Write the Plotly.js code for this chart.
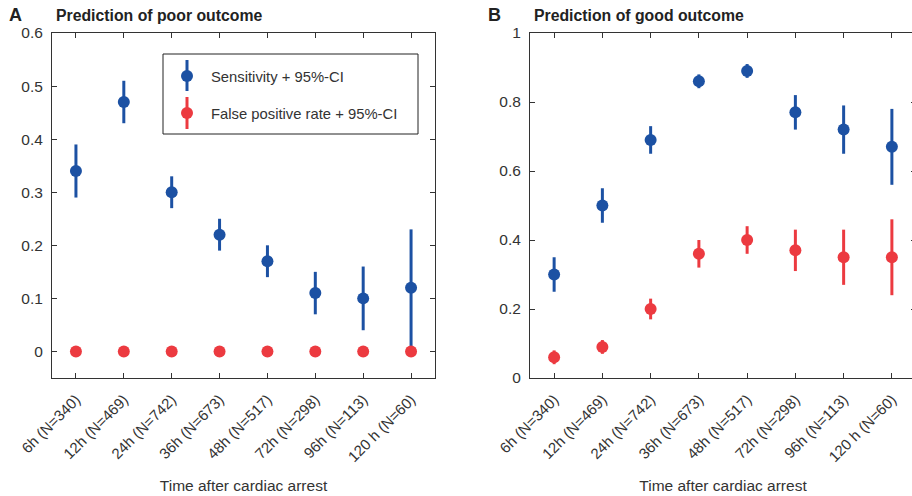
<!DOCTYPE html>
<html>
<head>
<meta charset="utf-8">
<script src="https://cdn.plot.ly/plotly-3.0.1.min.js"></script>
<style>
html,body{margin:0;padding:0;overflow:hidden;background:#fff;width:912px;height:496px;}
#chart{width:920px;height:496px;}
</style>
</head>
<body>
<div id="chart"></div>
<script>
// ---- data ----
const categories = ["6h (N=340)", "12h (N=469)", "24h (N=742)", "36h (N=673)", "48h (N=517)", "72h (N=298)", "96h (N=113)", "120 h (N=60)"];

// Panel A: prediction of poor outcome
const poorSens    = [0.34, 0.47, 0.30, 0.22, 0.17, 0.11, 0.10, 0.12];
const poorSensLo  = [0.29, 0.43, 0.27, 0.19, 0.14, 0.07, 0.04, 0.01];
const poorSensHi  = [0.39, 0.51, 0.33, 0.25, 0.20, 0.15, 0.16, 0.23];
const poorFpr     = [0, 0, 0, 0, 0, 0, 0, 0];
const poorFprLo   = [0, 0, 0, 0, 0, 0, 0, 0];
const poorFprHi   = [0, 0, 0, 0, 0, 0, 0, 0];

// Panel B: prediction of good outcome
const goodSens    = [0.30, 0.50, 0.69, 0.86, 0.89, 0.77, 0.72, 0.67];
const goodSensLo  = [0.25, 0.45, 0.65, 0.84, 0.87, 0.72, 0.65, 0.56];
const goodSensHi  = [0.35, 0.55, 0.73, 0.88, 0.91, 0.82, 0.79, 0.78];
const goodFpr     = [0.06, 0.09, 0.20, 0.36, 0.40, 0.37, 0.35, 0.35];
const goodFprLo   = [0.04, 0.07, 0.17, 0.32, 0.36, 0.31, 0.27, 0.24];
const goodFprHi   = [0.08, 0.11, 0.23, 0.40, 0.44, 0.43, 0.43, 0.46];

const legendLabels = ["Sensitivity + 95%-CI", "False positive rate + 95%-CI"];

// ---- styling ----
const BLUE = '#1c51a3';
const RED = '#ec3a40';
const TXT = '#333333';
const FONT = 'Liberation Sans, Arial, sans-serif';
const W = 920, H = 496;

function trace(y, lo, hi, color, xa, ya, name) {
  return {
    type: 'scatter', mode: 'markers', x: categories, y: y,
    xaxis: xa, yaxis: ya, name: name, showlegend: false,
    marker: {color: color, size: 12},
    error_y: {type: 'data', symmetric: false,
      array: y.map((v, i) => hi[i] - v),
      arrayminus: y.map((v, i) => v - lo[i]),
      color: color, thickness: 3, width: 0},
    cliponaxis: false
  };
}

const data = [
  trace(poorSens, poorSensLo, poorSensHi, BLUE, 'x', 'y', legendLabels[0]),
  trace(poorFpr, poorFprLo, poorFprHi, RED, 'x', 'y', legendLabels[1]),
  trace(goodSens, goodSensLo, goodSensHi, BLUE, 'x2', 'y2', legendLabels[0]),
  trace(goodFpr, goodFprLo, goodFprHi, RED, 'x2', 'y2', legendLabels[1])
];

const px = v => v / W;
const py = v => 1 - v / H;

const xCommon = {
  type: 'category', range: [-0.5, 7.5], tickangle: -45,
  ticks: 'inside', ticklen: 5, tickcolor: TXT, tickwidth: 1,
  showline: true, linecolor: TXT, linewidth: 1, mirror: 'ticks',
  showgrid: false, zeroline: false, ticklabelstandoff: 6,
  tickfont: {family: FONT, size: 15, color: TXT},
  title: {text: 'Time after cardiac arrest', font: {family: FONT, size: 15.5, color: TXT}, standoff: 16},
  automargin: false
};
const yCommon = {
  ticks: 'inside', ticklen: 5, tickcolor: TXT, tickwidth: 1,
  showline: true, linecolor: TXT, linewidth: 1, mirror: 'ticks',
  showgrid: false, zeroline: false, ticklabelstandoff: 5,
  tickfont: {family: FONT, size: 15.5, color: TXT},
  automargin: false
};
const yDom = [py(378), py(33)];

const layout = {
  width: W, height: H,
  margin: {l: 0, r: 0, t: 0, b: 0},
  paper_bgcolor: '#fff', plot_bgcolor: '#fff',
  showlegend: false,
  font: {family: FONT, color: TXT},
  xaxis: Object.assign({}, xCommon, {domain: [px(52), px(435)], anchor: 'y'}),
  yaxis: Object.assign({}, yCommon, {domain: yDom, anchor: 'x', range: [-0.05, 0.6],
    tickvals: [0, 0.1, 0.2, 0.3, 0.4, 0.5, 0.6]}),
  xaxis2: Object.assign({}, xCommon, {domain: [px(530), px(916)], anchor: 'y2'}),
  yaxis2: Object.assign({}, yCommon, {domain: yDom, anchor: 'x2', range: [0, 1],
    tickvals: [0, 0.2, 0.4, 0.6, 0.8, 1]}),
  annotations: [
    {xref: 'paper', yref: 'paper', x: px(7), y: py(15), xanchor: 'left', yanchor: 'middle',
     text: '<b>A</b>', showarrow: false, font: {family: FONT, size: 18, color: '#222'}},
    {xref: 'paper', yref: 'paper', x: px(54), y: py(15), xanchor: 'left', yanchor: 'middle',
     text: '<b>Prediction of poor outcome</b>', showarrow: false, font: {family: FONT, size: 15.8, color: '#222'}},
    {xref: 'paper', yref: 'paper', x: px(486), y: py(15), xanchor: 'left', yanchor: 'middle',
     text: '<b>B</b>', showarrow: false, font: {family: FONT, size: 18, color: '#222'}},
    {xref: 'paper', yref: 'paper', x: px(532), y: py(15), xanchor: 'left', yanchor: 'middle',
     text: '<b>Prediction of good outcome</b>', showarrow: false, font: {family: FONT, size: 15.8, color: '#222'}},
    {xref: 'paper', yref: 'paper', x: px(209), y: py(77), xanchor: 'left', yanchor: 'middle',
     text: legendLabels[0], showarrow: false, font: {family: FONT, size: 14.8, color: TXT}},
    {xref: 'paper', yref: 'paper', x: px(209), y: py(114), xanchor: 'left', yanchor: 'middle',
     text: legendLabels[1], showarrow: false, font: {family: FONT, size: 14.8, color: TXT}}
  ],
  shapes: [
    {type: 'rect', xref: 'paper', yref: 'paper', x0: px(163), x1: px(418), y0: py(54), y1: py(134),
     line: {color: '#222', width: 1}, fillcolor: 'rgba(255,255,255,1)'},
    {type: 'line', xref: 'paper', yref: 'paper', x0: px(187), x1: px(187), y0: py(60), y1: py(91),
     line: {color: BLUE, width: 3}},
    {type: 'circle', xref: 'paper', yref: 'paper', xsizemode: 'pixel', ysizemode: 'pixel',
     xanchor: px(187), yanchor: py(76), x0: -6, x1: 6, y0: -6, y1: 6,
     line: {width: 0}, fillcolor: BLUE},
    {type: 'line', xref: 'paper', yref: 'paper', x0: px(187), x1: px(187), y0: py(97), y1: py(129),
     line: {color: RED, width: 3}},
    {type: 'circle', xref: 'paper', yref: 'paper', xsizemode: 'pixel', ysizemode: 'pixel',
     xanchor: px(187), yanchor: py(113), x0: -6, x1: 6, y0: -6, y1: 6,
     line: {width: 0}, fillcolor: RED}
  ]
};

Plotly.newPlot('chart', data, layout, {staticPlot: true, displayModeBar: false});
</script>
</body>
</html>
